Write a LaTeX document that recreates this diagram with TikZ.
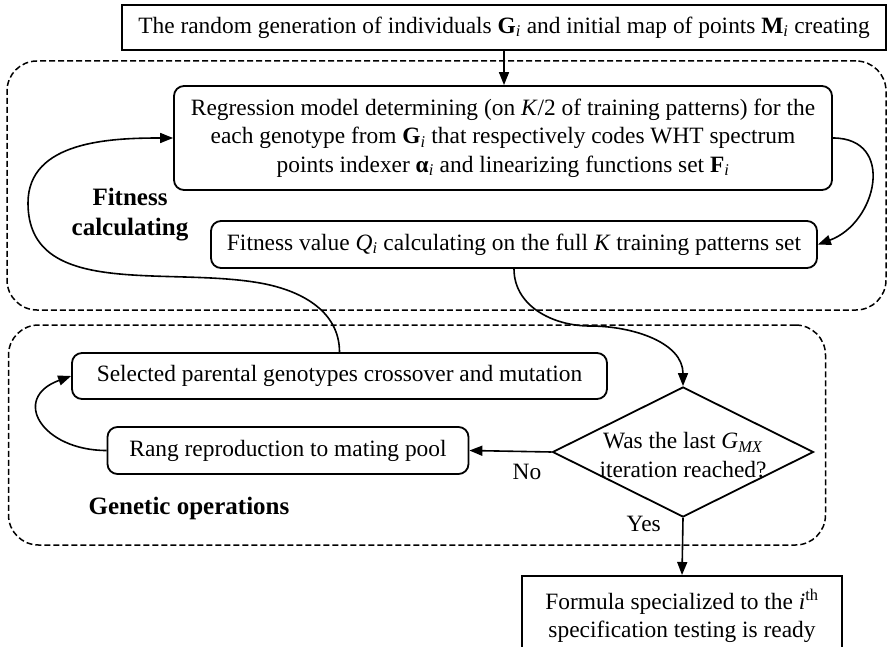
\documentclass[tikz,border=0pt]{standalone}
\usepackage{fontspec}
\setmainfont{Liberation Serif}
\usetikzlibrary{arrows.meta,shapes.geometric}
\newcommand{\subi}{\textsubscript{\textit{i}}}

\begin{document}
\begin{tikzpicture}[x=1pt,y=1pt,>={Triangle[length=13pt,width=10pt]},
  every node/.style={font=\fontsize{23.4}{28.5}\selectfont},
  procbox/.style={draw,line width=1.8pt,rounded corners=10pt,align=center,inner sep=0pt},
  plainbox/.style={draw,line width=1.8pt,align=center,inner sep=0pt},
  decision/.style={draw,diamond,line width=1.8pt,inner sep=0pt},
  groupbox/.style={draw,line width=1.5pt,dash pattern=on 6pt off 3pt,rounded corners=30pt,inner sep=0pt},
  grouplabel/.style={align=center,font=\fontsize{25}{30}\selectfont\bfseries},
  flow/.style={->,line width=1.6pt}]
\useasboundingbox (0,0) rectangle (888,-647);
\node[groupbox,minimum width=879,minimum height=249] (fitgroup) at (446.5,-185.5) {};
\node[groupbox,minimum width=817,minimum height=220] (gengroup) at (417,-435) {};
\node[plainbox,minimum width=764,minimum height=45] (init) at (504,-27.5)
  {The random generation of individuals \textbf{G}\subi{} and initial map of points \textbf{M}\subi{} creating};
\node[procbox,minimum width=658,minimum height=104] (regression) at (503,-138)
  {Regression model determining (on \textit{K}/2 of training patterns) for the\\
   each genotype from \textbf{G}\subi{} that respectively codes WHT spectrum\\
   points indexer \textbf{α}\subi{} and linearizing functions set \textbf{F}\subi};
\node[procbox,minimum width=606,minimum height=47] (fitness) at (514,-244.5)
  {Fitness value \textit{Q}\subi{} calculating on the full \textit{K} training patterns set};
\node[procbox,minimum width=535,minimum height=46] (selected) at (339.5,-376)
  {Selected parental genotypes crossover and mutation};
\node[procbox,minimum width=361,minimum height=47] (rang) at (288,-450.5)
  {Rang reproduction to mating pool};
\node[decision,minimum width=261,minimum height=130] (check) at (683,-452) {};
\node[align=center] (checktext) at (683,-455)
  {Was the last \textit{G}\textsubscript{\textit{MX}}\\iteration reached?};
\node[plainbox,anchor=north,minimum width=320,minimum height=80] (ready) at (682,-575)
  {Formula specialized to the \textit{i}\textsuperscript{th}\\specification testing is ready};
\node[grouplabel] (fitlabel) at (130,-215) {Fitness\\calculating};
\node[grouplabel] (genlabel) at (189,-508) {Genetic operations};
\coordinate (fitdip) at (590,-326);
\coordinate (backturn) at (260,-283);
\coordinate (backleft) at (28,-203);
% connectors
\draw[flow] (init.south -| 504,0) -- (regression.north -| 504,0);
\draw[flow] (regression.east) to[out=0,in=20,looseness=1.5] (fitness.east);
\draw[flow] (fitness.south) to[out=-90,in=180] (fitdip) to[out=0,in=90] (check.north);
\draw[flow] (selected.north) to[out=90,in=-10] (backturn) to[out=170,in=-90] (backleft)
  to[out=90,in=180] (regression.west);
\draw[flow] (rang.west) to[out=180,in=200,looseness=2] (selected.west);
\draw[flow] (check.west) -- (rang.east) node[pos=0.3,below=8pt] (nolabel) {No};
\draw[flow] (check.south) -- (ready.north) node[pos=0.1,left=18pt] (yeslabel) {Yes};
\end{tikzpicture}
\end{document}
